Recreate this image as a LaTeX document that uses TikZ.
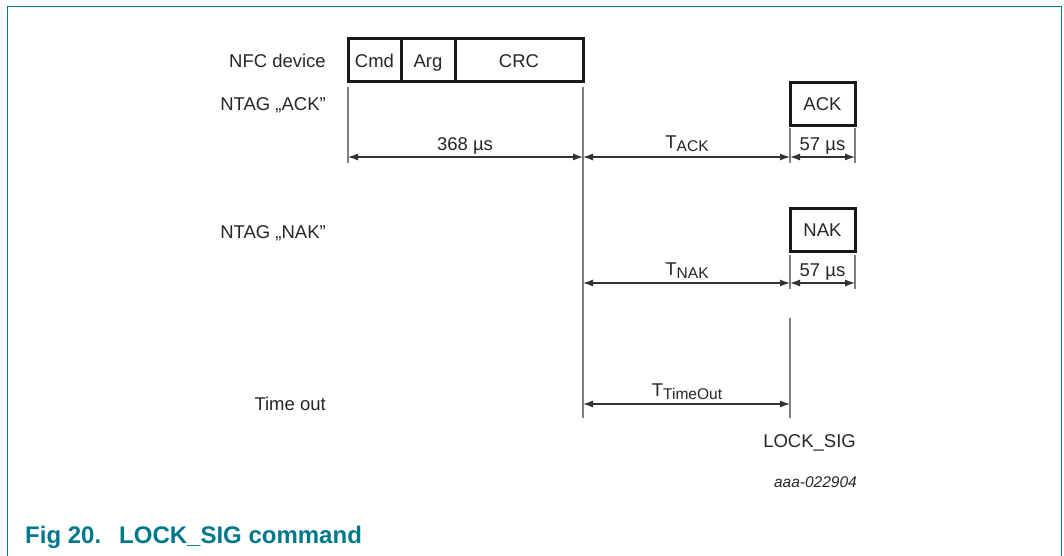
\documentclass[tikz,border=0pt]{standalone}
\usepackage{fontspec}
\setmainfont{Liberation Sans}
\usetikzlibrary{arrows.meta}
\definecolor{nxpteal}{RGB}{0,120,140}
\newcommand{\lowtext}[1]{\raisebox{-3pt}{\fontsize{15.5}{18}\selectfont #1}}

\begin{document}
\begin{tikzpicture}[x=1pt,y=-1pt,
    txt/.style={font=\fontsize{18.5}{22}\selectfont, text=black!85, inner sep=0pt},
    field/.style={draw=black!90, line width=3pt, inner sep=0pt, outer sep=0pt,
      minimum height=43pt, text height=13.2pt, text depth=0pt,
      font=\fontsize{18.5}{22}\selectfont, text=black!85},
    guide/.style={gray, line width=1.2pt},
    dim/.style={black!80, line width=1.2pt, {Latex[length=10pt,width=7pt]}-{Latex[length=10pt,width=7pt]}}]
  \useasboundingbox (0,0) rectangle (1064,556);
  % frame
  \draw[nxpteal, line width=1.5pt] (7.5,556) -- (7.5,6.5) -- (1061.5,6.5) -- (1061.5,556);

  % frames on the air
  \node[field, minimum width=53pt, anchor=north west] (cmd) at (348,39) {Cmd};
  \node[field, minimum width=54pt, anchor=north west] (arg) at (cmd.north east) {Arg};
  \node[field, minimum width=128pt, anchor=north west] (crc) at (arg.north east) {CRC};
  \node[field, minimum width=65pt] (ack) at (822.5,104) {ACK};
  \node[field, minimum width=65pt] (nak) at (822.5,230) {NAK};

  % row labels
  \node[txt, anchor=base east] (nfc) at (326,68) {NFC device};
  \node[txt, anchor=base east] (tagack) at (326,110.5) {NTAG „ACK”};
  \node[txt, anchor=base east] (tagnak) at (326,238.5) {NTAG „NAK”};
  \node[txt, anchor=base east] (tout) at (326,410) {Time out};

  % time marks
  \draw[guide] (348,87) -- (348,163);
  \draw[guide] (583,87) -- (583,418);
  \draw[guide] (790,128) -- (790,163);
  \draw[guide] (855,128) -- (855,163);
  \draw[guide] (790,255) -- (790,289);
  \draw[guide] (855,255) -- (855,289);
  \draw[guide] (790,318) -- (790,418);

  \coordinate (a0) at (348,157);
  \coordinate (a1) at (583,157);
  \coordinate (a2) at (790,157);
  \coordinate (a3) at (855,157);
  \coordinate (n1) at (583,283);
  \coordinate (n2) at (790,283);
  \coordinate (n3) at (855,283);
  \coordinate (o1) at (583,404);
  \coordinate (o2) at (790,404);

  \draw[dim] (a0) -- (a1);
  \draw[dim] (a1) -- (a2);
  \draw[dim] (a2) -- (a3);
  \draw[dim] (n1) -- (n2);
  \draw[dim] (n2) -- (n3);
  \draw[dim] (o1) -- (o2);

  % durations
  \node[txt, anchor=base] (d368) at (465,150) {368 µs};
  \node[txt, anchor=base] (tack) at (687,149) {T\lowtext{ACK}};
  \node[txt, anchor=base] (dack) at (822.5,150) {57 µs};
  \node[txt, anchor=base] (tnak) at (687,275) {T\lowtext{NAK}};
  \node[txt, anchor=base] (dnak) at (822.5,276) {57 µs};
  \node[txt, anchor=base] (ttime) at (687,396) {T\lowtext{TimeOut}};

  \node[txt, anchor=base east] (lock) at (856,447) {LOCK\_SIG};
  \node[txt, anchor=base east, font=\fontsize{15.5}{18}\selectfont\itshape] (code) at (857,487) {aaa-022904};

  % caption
  \node[anchor=base west, inner sep=0pt, text=nxpteal, font=\fontsize{24}{28}\selectfont\bfseries] (cap) at (25,543.5) {Fig 20.\hspace{18pt}LOCK\_SIG command};
\end{tikzpicture}
\end{document}
